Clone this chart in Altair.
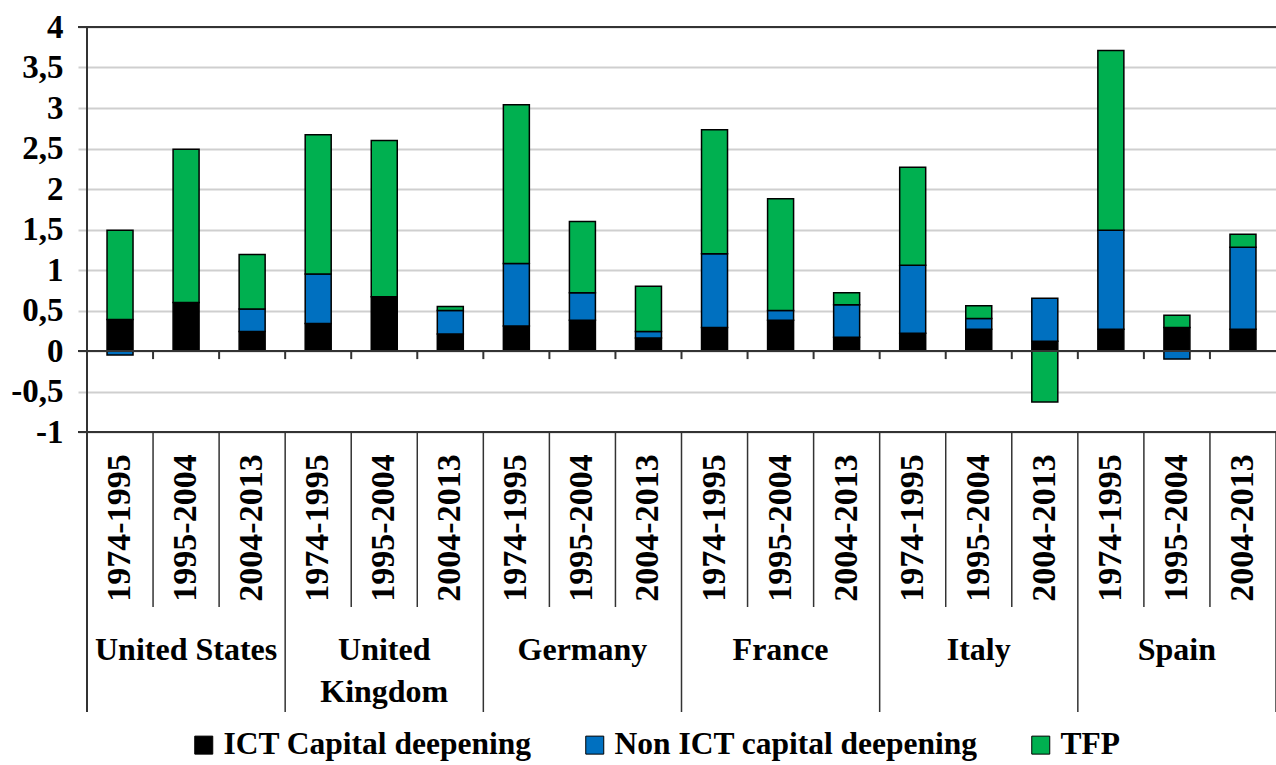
import altair as alt
import pandas as pd

# Growth decomposition of labour productivity by country and period
countries = ["United States", "United Kingdom", "Germany", "France", "Italy", "Spain"]
country_labels = ["United States", "United\nKingdom", "Germany", "France", "Italy", "Spain"]
periods = ["1974-1995", "1995-2004", "2004-2013"]

components = ["ICT Capital deepening", "Non ICT capital deepening", "TFP"]
colors = ["#000000", "#0070c0", "#00b050"]

ict = [0.39, 0.60, 0.24, 0.34, 0.67, 0.21, 0.31, 0.38, 0.16,
       0.29, 0.38, 0.17, 0.22, 0.27, 0.12, 0.27, 0.29, 0.27]
non_ict = [-0.05, 0.00, 0.28, 0.61, 0.00, 0.29, 0.77, 0.34, 0.08,
           0.91, 0.12, 0.40, 0.84, 0.13, 0.53, 1.22, -0.10, 1.01]
tfp = [1.10, 1.89, 0.67, 1.72, 1.93, 0.05, 1.96, 0.88, 0.56,
       1.53, 1.38, 0.15, 1.21, 0.16, -0.63, 2.22, 0.15, 0.16]

y_ticks = [-1, -0.5, 0, 0.5, 1, 1.5, 2, 2.5, 3, 3.5, 4]

FONT = "'Liberation Serif', 'Times New Roman', Times, serif"
DARK = "#333333"
W, H = 1189, 405
n_bars = len(countries) * len(periods)

rows = []
for i in range(n_bars):
    for k, (name, series) in enumerate(zip(components, [ict, non_ict, tfp])):
        rows.append({
            "pos": i + 0.5,
            "country": countries[i // 3],
            "period": periods[i % 3],
            "component": name,
            "order": k,
            "value": series[i],
        })
bars_df = pd.DataFrame(rows)

labels_df = pd.DataFrame({
    "pos": [i + 0.5 for i in range(n_bars)],
    "period": [periods[i % 3] for i in range(n_bars)],
})
groups_df = pd.DataFrame({
    "center": [3 * g + 1.5 for g in range(len(countries))],
    "label": country_labels,
})
inner_df = pd.DataFrame({"b": [b for b in range(1, n_bars) if b % 3 != 0]})
group_df = pd.DataFrame({"b": [b for b in range(3, n_bars + 1, 3)]})
tick_df = pd.DataFrame({"b": list(range(1, n_bars))})
frame_df = pd.DataFrame({"v": [4, 0, -1]})

x_scale = alt.Scale(domain=[0, n_bars], nice=False, zero=False, padding=0)
y_scale = alt.Scale(domain=[-1, 4], nice=False, zero=False, padding=0)

y_axis = alt.Axis(
    values=y_ticks,
    labelExpr="replace(toString(datum.value), '.', ',')",
    grid=True, gridColor="#cfcfcf", gridWidth=2,
    domain=False,
    ticks=True, tickSize=9, tickColor="#cfcfcf", tickWidth=2,
    labelFont=FONT, labelFontSize=33, labelFontWeight="bold",
    labelColor="black", labelPadding=15, title=None,
)

bars = alt.Chart(bars_df).mark_bar(size=26, stroke="black", strokeWidth=1.5).encode(
    x=alt.X("pos:Q", scale=x_scale, axis=None),
    y=alt.Y("value:Q", stack="zero", scale=y_scale, axis=y_axis),
    color=alt.Color(
        "component:N",
        scale=alt.Scale(domain=components, range=colors),
        legend=alt.Legend(
            orient="none", legendX=101, legendY=702, direction="horizontal",
            title=None, symbolType="square", symbolSize=324,
            symbolStrokeColor="black", symbolStrokeWidth=1,
            labelFont=FONT, labelFontSize=31.5, labelFontWeight="bold",
            labelColor="black", labelOffset=4, columnPadding=47,
            padding=0, labelLimit=0,
        ),
    ),
    order=alt.Order("order:Q"),
)

frame = alt.Chart(frame_df).mark_rule(color=DARK, strokeWidth=2).encode(
    y=alt.Y("v:Q", scale=y_scale, axis=y_axis),
    x=alt.value(-9),
    x2=alt.value(W),
)

zero_ticks = alt.Chart(tick_df).mark_rule(color=DARK, strokeWidth=2).encode(
    x=alt.X("b:Q", scale=x_scale, axis=None),
    y=alt.datum(0, scale=y_scale, axis=y_axis),
    y2=alt.datum(-0.1),
)

left_edge = alt.Chart(pd.DataFrame({"b": [0]})).mark_rule(color=DARK, strokeWidth=2).encode(
    x=alt.X("b:Q", scale=x_scale, axis=None),
    y=alt.value(0),
    y2=alt.value(685),
)

inner_sep = alt.Chart(inner_df).mark_rule(color=DARK, strokeWidth=1.5).encode(
    x=alt.X("b:Q", scale=x_scale, axis=None),
    y=alt.value(H),
    y2=alt.value(580),
)

group_sep = alt.Chart(group_df).mark_rule(color=DARK, strokeWidth=1.5).encode(
    x=alt.X("b:Q", scale=x_scale, axis=None),
    y=alt.value(H),
    y2=alt.value(685),
)

period_text = alt.Chart(labels_df).mark_text(
    angle=270, align="center", baseline="middle",
    font=FONT, fontSize=34, fontWeight="bold", color="black",
).encode(
    x=alt.X("pos:Q", scale=x_scale, axis=None),
    y=alt.value(501),
    text="period:N",
)

country_text = alt.Chart(groups_df).mark_text(
    align="center", baseline="alphabetic", lineBreak="\n", lineHeight=42,
    font=FONT, fontSize=32, fontWeight="bold", color="black",
).encode(
    x=alt.X("center:Q", scale=x_scale, axis=None),
    y=alt.value(633),
    text="label:N",
)

chart = alt.layer(
    bars, frame, zero_ticks, left_edge, inner_sep, group_sep, period_text, country_text
).properties(
    width=W,
    height=H,
    padding={"left": 87, "top": 27, "right": 0, "bottom": 333},
    autosize=alt.AutoSizeParams(type="none"),
).configure_view(stroke=None).configure(background="white")

chart.save("out.html", embed_options={"renderer": "svg", "actions": False})
